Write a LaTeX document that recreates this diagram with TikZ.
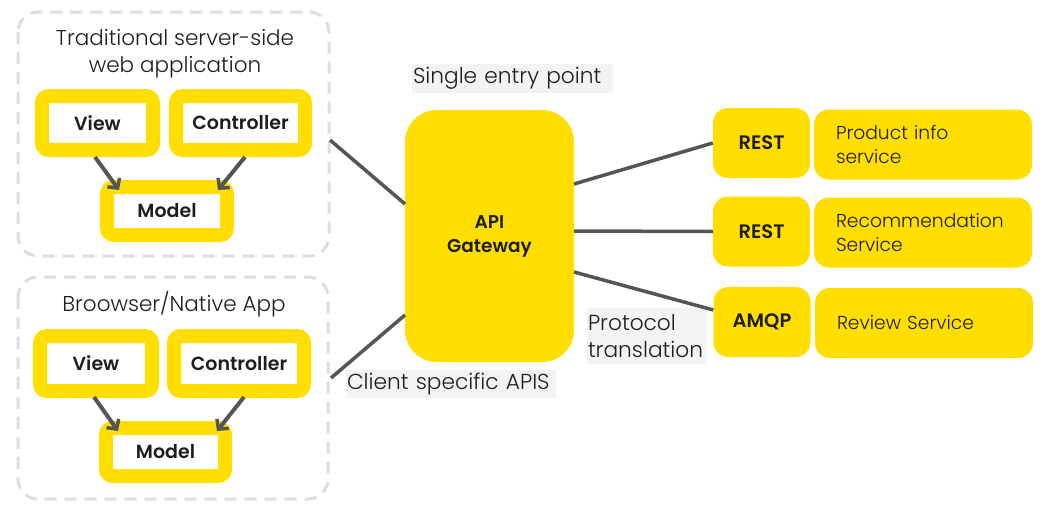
\documentclass[tikz,border=0pt]{standalone}
\usepackage{fontspec}
\setmainfont{Poppins}[UprightFont=* Light,BoldFont=* SemiBold]
\usetikzlibrary{arrows.meta}
\definecolor{ylw}{HTML}{FFDE00}
\definecolor{lnk}{HTML}{555555}
\definecolor{dsh}{HTML}{DDDDDD}
\definecolor{lblbg}{HTML}{F3F3F3}
\definecolor{txt}{HTML}{1E1E1E}
\begin{document}
\begin{tikzpicture}[x=1pt,y=-1pt,
  group/.style={draw=dsh,line width=3pt,dash pattern=on 12pt off 8pt,rounded corners=20pt},
  mvc/.style={draw=ylw,fill=white,line width=14pt,rounded corners=7pt,text=txt,
    font=\bfseries\fontsize{19}{20}\selectfont,inner sep=0pt,minimum height=54pt},
  title/.style={text=txt,font=\fontsize{21.5}{27}\selectfont,align=center},
  arr/.style={draw=lnk,line width=4pt,-{Straight Barb[length=7pt,width=15pt,line width=3.5pt]}},
  link/.style={draw=lnk,line width=3.5pt},
  gw/.style={fill=ylw,rounded corners=32pt,text=txt,font=\bfseries\fontsize{18.5}{24}\selectfont,align=center,inner sep=0pt},
  proto/.style={fill=ylw,rounded corners=15pt,text=txt,font=\bfseries\fontsize{19.5}{22}\selectfont,inner sep=0pt,minimum width=97pt,minimum height=70pt},
  svc/.style={fill=ylw,rounded corners=15pt,text=txt,font=\fontsize{18.7}{24}\selectfont,align=left,inner sep=0pt,minimum width=218pt,minimum height=70pt,text width=174pt},
  lbl/.style={fill=lblbg,text=txt,font=\fontsize{21.7}{27}\selectfont,inner sep=0pt,align=left}
]
\useasboundingbox (0,0) rectangle (1057,509);
% groups
\draw[group] (18,12) rectangle (329,256);
\draw[group] (18,277) rectangle (328,499);
\node[title] (t1) at (175,53.5) {Traditional server-side\\web application};
\node[title] (t2) at (174,304) {Broowser/Native App};
% top MVC
\node[mvc,minimum width=111pt] (v1) at (97.5,123) {View};
\node[mvc,minimum width=129pt] (c1) at (240.5,123) {Controller};
\node[mvc,minimum width=120pt,minimum height=48pt] (m1) at (167,211) {Model};
\draw[arr] (95,157) -- (119,190);
\draw[arr] (245,157) -- (218,190);
% bottom MVC
\node[mvc,minimum width=112pt,minimum height=55pt] (v2) at (96,363.5) {View};
\node[mvc,minimum width=130pt,minimum height=55pt] (c2) at (239,363.5) {Controller};
\node[mvc,minimum width=119pt,minimum height=48pt] (m2) at (165.5,452) {Model};
\draw[arr] (94,397) -- (118,431);
\draw[arr] (244,397) -- (217,431);
% gateway
\node[gw,minimum width=169pt,minimum height=252pt] (gw) at (489.5,236) {API\\Gateway};
\coordinate (g1) at (330,140);
\coordinate (g2) at (331,378);
\draw[link] (g1) -- (405,204);
\draw[link] (g2) -- (405,315);
% labels
\node[lbl,minimum width=201pt,minimum height=29pt,text width=199pt] (sep) at (512.5,78.5) {\raisebox{-2pt}{Single entry point}};
\node[lbl,minimum width=210pt,minimum height=28pt,text width=208pt] (csa) at (451,384) {\raisebox{-2pt}{Client specific APIS}};
\node[lbl,minimum width=120pt,minimum height=56pt,text width=118pt] (pt) at (647,336) {Protocol\\translation};
% protocols
\node[proto] (r1) at (761.5,143) {REST};
\node[proto] (r2) at (761.5,231.5) {REST};
\node[proto] (r3) at (762,322) {AMQP};
\node[svc] (s1) at (923,144.5) {Product info\\service};
\node[svc] (s2) at (923,232.5) {Recommendation\\Service};
\node[svc] (s3) at (924,323) {Review Service};
\draw[link] (574,184) -- (r1.west|-0,143);
\draw[link] (574,231) -- (r2.west);
\draw[link] (574,272) -- (r3.west|-0,310);
\end{tikzpicture}
\end{document}
